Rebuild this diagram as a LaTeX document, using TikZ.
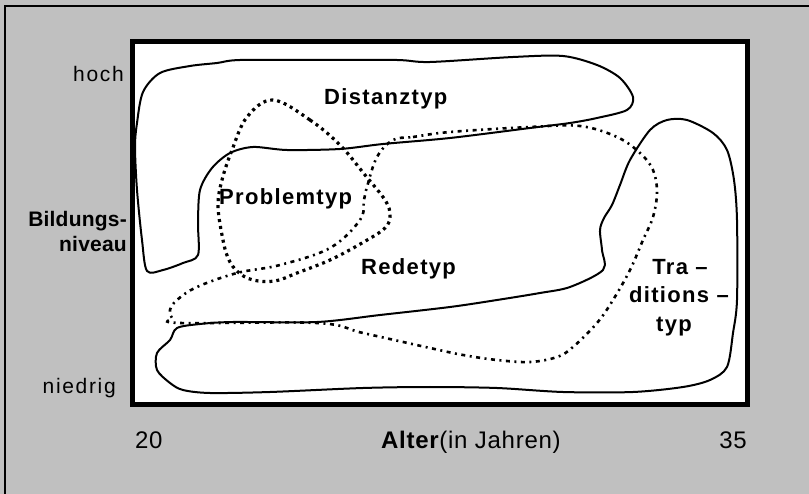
\documentclass[tikz,border=0pt]{standalone}
\usepackage{fontspec}
\setmainfont{Liberation Sans}
\newfontfamily\labfont[LetterSpace=8]{Liberation Sans}
\newfontfamily\regfont[LetterSpace=6]{Liberation Sans}
\newfontfamily\yfont[LetterSpace=1]{Liberation Sans}
\newfontfamily\xfont[LetterSpace=3]{Liberation Sans}
\definecolor{framegray}{HTML}{C0C0C0}
\tikzset{
  lab/.style={inner sep=0pt, font=\labfont\fontsize{21}{25}\selectfont},
  xlab/.style={inner sep=0pt, font=\xfont\fontsize{24}{28}\selectfont},
  ylab/.style={inner sep=0pt, font=\yfont\bfseries\fontsize{21}{25}\selectfont},
  blab/.style={inner sep=0pt, font=\regfont\bfseries\fontsize{22}{26}\selectfont},
  hook/.style={line width=2pt, line join=round},
  probdots/.style={line width=3.2pt, dash pattern=on 3pt off 4pt},
  rededots/.style={line width=2.6pt, dash pattern=on 4pt off 4.5pt on 2pt off 4.5pt},
}
\begin{document}
\begin{tikzpicture}[x=1pt,y=-1pt]
\useasboundingbox (0,0) rectangle (809,494);
\fill[framegray] (0,0) rectangle (809,494);
\draw[line width=2pt] (5,6) rectangle (830,520);
\draw[line width=5pt, fill=white] (132,42) rectangle (747.5,404.5);

% Distanztyp hook
\draw[hook] plot[smooth cycle, tension=0.5] coordinates {
 (135,147) (137,123) (143,92) (160,73) (190,66) (217,63) (240,60) (320,60)
 (397,60) (430,62) (513,57) (563,56) (597,65) (620,78) (633,97) (627,110)
 (597,118) (570,123) (530,128) (450,138) (383,144) (340,149) (287,150)
 (253,147) (230,153) (212,168) (200,190) (198,223) (198,255) (183,263)
 (163,270) (147,271) (142,240) (137,190)};

% Traditionstyp hook
\draw[hook] plot[smooth cycle, tension=0.5] coordinates {
 (157,353) (170,340) (177,328) (200,324) (233,322) (317,322) (380,315)
 (450,307) (497,300) (540,293) (570,287) (603,270) (602,250) (600,230)
 (604,218) (612,205) (620,185) (630,160) (650,130) (667,120) (687,120)
 (713,133) (727,150) (734,180) (737,220) (737,300) (733,333) (727,367)
 (710,380) (683,387) (633,392) (563,392) (497,388) (430,387) (363,388)
 (270,392) (210,393) (183,390) (170,383) (157,370)};

% Problemtyp dotted loop
\draw[probdots] plot[smooth cycle, tension=0.6] coordinates {
 (273,100) (310,120) (340,145) (365,175) (385,200) (390,215) (385,228)
 (362,243) (330,260) (297,273) (275,281) (253,280) (238,272) (228,258)
 (222,235) (218,205) (222,180) (232,150) (247,117)};

% Redetyp dotted loop
\draw[rededots] plot[smooth cycle, tension=0.6] coordinates {
 (393,140) (413,137) (450,132) (530,127) (580,126) (617,137) (640,153)
 (653,170) (657,192) (653,217) (643,240) (630,270) (613,300) (597,323)
 (573,347) (557,357) (530,362) (497,360) (463,355) (430,348) (363,333)
 (317,323) (180,323) (172,318) (170,310) (177,300) (197,287) (237,273)
 (280,265) (330,248) (360,220) (364,200) (367,187) (377,157)};

% labels
\node[lab, anchor=base east] (hoch) at (124,82) {hoch};
\node[ylab, anchor=base east] (bild1) at (127,227) {Bildungs-};
\node[ylab, anchor=base east] (bild2) at (127,252) {niveau};
\node[lab, anchor=base east] (niedrig) at (116,394) {niedrig};
\node[xlab, anchor=base west] (x20) at (135,448) {20};
\node[xlab, anchor=base east] (x35) at (747,448) {35};
\node[xlab, anchor=base west] (alter) at (381,448) {\textbf{Alter}(in Jahren)};
\node[blab, anchor=base west] (dist) at (324,105) {Distanztyp};
\node[blab, anchor=base west] (prob) at (219,205) {Problemtyp};
\node[blab, anchor=base west] (rede) at (361,275) {Redetyp};
\node[blab, anchor=base] (tra1) at (680,275) {Tra –};
\node[blab, anchor=base] (tra2) at (679,303) {ditions –};
\node[blab, anchor=base] (tra3) at (674,332) {typ};
\end{tikzpicture}
\end{document}
